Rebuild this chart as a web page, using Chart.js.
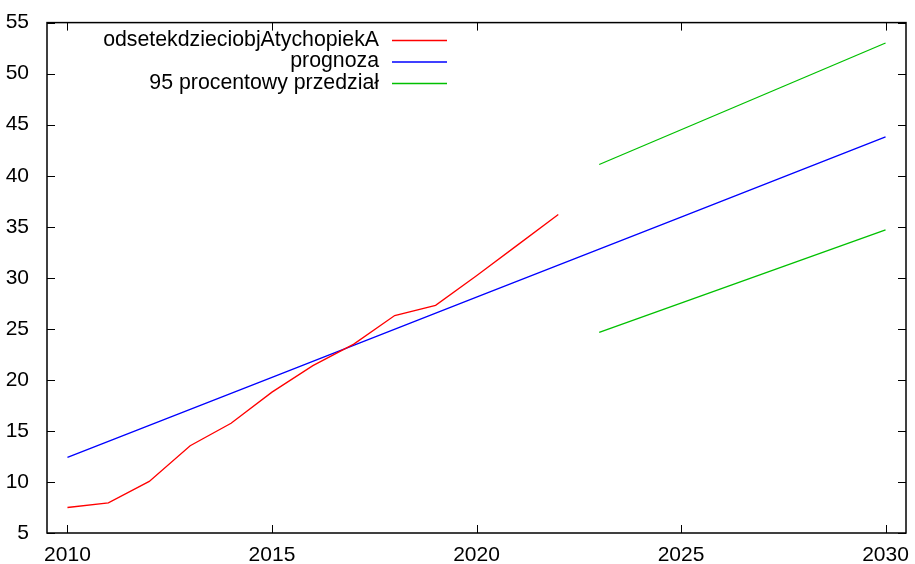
<!DOCTYPE html>
<html>
<head>
<meta charset="utf-8">
<script src="https://cdn.jsdelivr.net/npm/chart.js@4/dist/chart.umd.min.js"></script>
<style>
  html, body { margin: 0; padding: 0; background: #fff; }
  #wrap { width: 915px; height: 564px; }
</style>
</head>
<body>
<div id="wrap"><canvas id="myChart"></canvas></div>
<script>
// data
const years = [2010, 2011, 2012, 2013, 2014, 2015, 2016, 2017, 2018, 2019, 2020, 2021, 2022];
const odsetek = [7.5, 7.95, 10.05, 13.55, 15.75, 18.8, 21.4, 23.5, 26.3, 27.3, 30.2, 33.2, 36.2];

const trendYears = [2010, 2015, 2020, 2025, 2030];
const prognoza = [12.4, 20.25, 28.1, 35.95, 43.8];

const bandYears = [2023, 2030];
const gornaGranica = [41.1, 53.0];
const dolnaGranica = [24.65, 34.7];

const xTicks = [2010, 2015, 2020, 2025, 2030];
const yTicks = [5, 10, 15, 20, 25, 30, 35, 40, 45, 50, 55];

const legendLabels = ['odsetekdzieciobjAtychopiekA', 'prognoza', '95 procentowy przedział'];
const legendColors = ['#ff0000', '#0000ff', '#00c000'];

const FONT = 'Liberation Sans, Arial, Helvetica, sans-serif';

const pts = (xs, ys) => xs.map((x, i) => ({ x: x, y: ys[i] }));

// gnuplot-ish frame, inward ticks and key
const gnuFrame = {
    id: 'gnuFrame',
    afterDraw(chart) {
        const c = chart.ctx;
        const a = chart.chartArea;
        const xs = chart.scales.x;
        const ys = chart.scales.y;
        c.save();
        c.strokeStyle = '#000';
        c.lineWidth = 1.5;
        c.strokeRect(a.left, a.top, a.right - a.left, a.bottom - a.top);
        c.lineWidth = 1;
        c.beginPath();
        xTicks.forEach(v => {
            const px = Math.round(xs.getPixelForValue(v)) + 0.5;
            c.moveTo(px, a.bottom); c.lineTo(px, a.bottom - 8);
            c.moveTo(px, a.top); c.lineTo(px, a.top + 8);
        });
        yTicks.forEach(v => {
            const py = Math.round(ys.getPixelForValue(v)) + 0.5;
            c.moveTo(a.left, py); c.lineTo(a.left + 8, py);
            c.moveTo(a.right, py); c.lineTo(a.right - 8, py);
        });
        c.stroke();

        // key
        c.font = '21.3px ' + FONT;
        c.textAlign = 'right';
        c.textBaseline = 'middle';
        legendLabels.forEach((t, i) => {
            const y = 40 + i * 21.5;
            c.fillStyle = '#000';
            c.fillText(t, 379, y);
            c.strokeStyle = legendColors[i];
            c.lineWidth = 1.3;
            c.beginPath();
            c.moveTo(392, y + 0.5); c.lineTo(447, y + 0.5);
            c.stroke();
        });
        c.restore();
    }
};

const lineStyle = (col) => ({
    borderColor: col,
    backgroundColor: col,
    borderWidth: 1.3,
    pointRadius: 0,
    tension: 0,
    fill: false
});

const ctx = document.getElementById('myChart').getContext('2d');
const myChart = new Chart(ctx, {
    type: 'line',
    data: {
        datasets: [
            Object.assign({ label: legendLabels[0], data: pts(years, odsetek) }, lineStyle(legendColors[0])),
            Object.assign({ label: legendLabels[1], data: pts(trendYears, prognoza) }, lineStyle(legendColors[1])),
            Object.assign({ label: legendLabels[2], data: pts(bandYears, gornaGranica) }, lineStyle(legendColors[2])),
            Object.assign({ label: legendLabels[2], data: pts(bandYears, dolnaGranica) }, lineStyle(legendColors[2]))
        ]
    },
    options: {
        responsive: true,
        maintainAspectRatio: false,
        animation: false,
        layout: { padding: { top: 19, right: 9, left: 0, bottom: 0 } },
        plugins: {
            legend: { display: false },
            tooltip: { enabled: false }
        },
        scales: {
            x: {
                type: 'linear',
                min: 2009.5,
                max: 2030.5,
                afterBuildTicks: s => { s.ticks = xTicks.map(v => ({ value: v })); },
                afterFit: s => { s.height = 31; },
                grid: { display: false },
                border: { display: false },
                ticks: {
                    color: '#000',
                    padding: 2,
                    maxRotation: 0,
                    font: { family: FONT, size: 21 },
                    callback: v => String(v)
                }
            },
            y: {
                min: 5,
                max: 55,
                afterBuildTicks: s => { s.ticks = yTicks.map(v => ({ value: v })); },
                afterFit: s => { s.width = 47; },
                grid: { display: false },
                border: { display: false },
                ticks: {
                    color: '#000',
                    padding: 10,
                    font: { family: FONT, size: 21 }
                }
            }
        }
    },
    plugins: [gnuFrame]
});
</script>
</body>
</html>
